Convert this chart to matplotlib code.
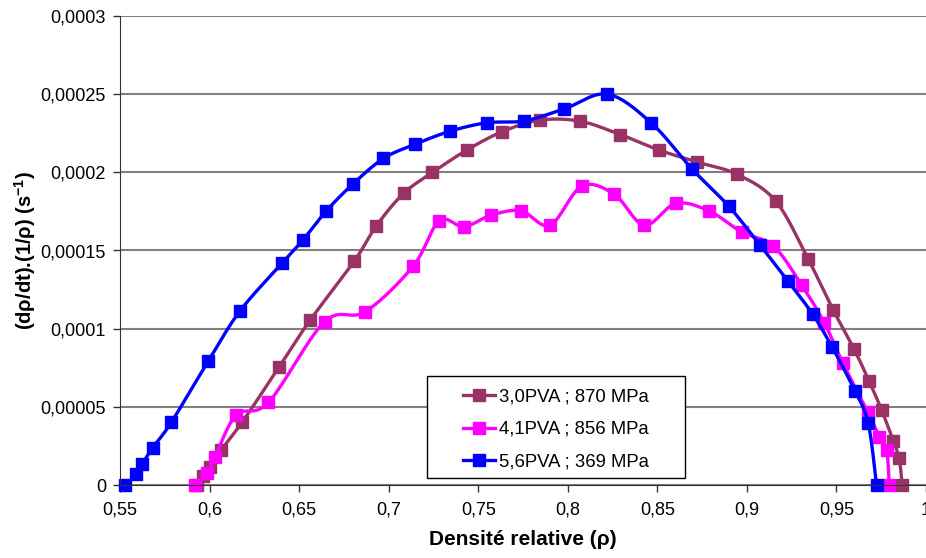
import numpy as np
import matplotlib
matplotlib.use('Agg')
import matplotlib.pyplot as plt
from matplotlib.patches import Rectangle
from matplotlib.ticker import FuncFormatter, MultipleLocator

plt.rcParams['font.family'] = ['Liberation Sans', 'DejaVu Sans']
plt.rcParams['mathtext.fontset'] = 'custom'
plt.rcParams['mathtext.rm'] = 'Liberation Sans'
plt.rcParams['mathtext.bf'] = 'Liberation Sans:bold'

# 3,0PVA ; 870 MPa
rho_30 = [0.5931, 0.5965, 0.6004, 0.6065, 0.6181, 0.6389, 0.6562, 0.6809, 0.6930,
          0.7083, 0.7244, 0.7436, 0.7632, 0.7845, 0.8069, 0.8292, 0.8511, 0.8724,
          0.8946, 0.9161, 0.9343, 0.9482, 0.9598, 0.9683, 0.9752, 0.9817, 0.9850, 0.9867]
rate_30 = [0.0, 5.8e-6, 1.17e-5, 2.24e-5, 4.0e-5, 7.56e-5, 1.055e-4, 1.434e-4, 1.656e-4,
           1.865e-4, 1.999e-4, 2.142e-4, 2.259e-4, 2.334e-4, 2.327e-4, 2.242e-4, 2.142e-4, 2.065e-4,
           1.987e-4, 1.816e-4, 1.443e-4, 1.119e-4, 8.70e-5, 6.63e-5, 4.80e-5, 2.83e-5, 1.71e-5, 0.0]

# 4,1PVA ; 856 MPa
rho_41 = [0.5920, 0.5986, 0.6030, 0.6149, 0.6329, 0.6642, 0.6869, 0.7137, 0.7282,
          0.7421, 0.7572, 0.7739, 0.7901, 0.8078, 0.8260, 0.8427, 0.8603, 0.8790,
          0.8974, 0.9147, 0.9306, 0.9432, 0.9535, 0.9676, 0.9739, 0.9780, 0.9795]
rate_41 = [0.0, 7.5e-6, 1.79e-5, 4.48e-5, 5.29e-5, 1.044e-4, 1.108e-4, 1.40e-4, 1.690e-4,
           1.652e-4, 1.726e-4, 1.754e-4, 1.662e-4, 1.912e-4, 1.859e-4, 1.662e-4, 1.801e-4, 1.752e-4,
           1.616e-4, 1.530e-4, 1.279e-4, 1.038e-4, 7.82e-5, 4.65e-5, 3.09e-5, 2.24e-5, 0.0]

# 5,6PVA ; 369 MPa
rho_56 = [0.5530, 0.5591, 0.5623, 0.5682, 0.5786, 0.5994, 0.6171, 0.6404, 0.6521,
          0.6651, 0.6800, 0.6971, 0.7148, 0.7343, 0.7548, 0.7758, 0.7981, 0.8221,
          0.8465, 0.8695, 0.8898, 0.9073, 0.9228, 0.9367, 0.9477, 0.9603, 0.9677, 0.9724]
rate_56 = [0.0, 6.8e-6, 1.32e-5, 2.38e-5, 4.0e-5, 7.95e-5, 1.115e-4, 1.418e-4, 1.567e-4,
           1.752e-4, 1.925e-4, 2.089e-4, 2.180e-4, 2.263e-4, 2.317e-4, 2.329e-4, 2.406e-4, 2.500e-4,
           2.317e-4, 2.020e-4, 1.784e-4, 1.535e-4, 1.306e-4, 1.093e-4, 8.80e-5, 6.03e-5, 3.98e-5, 0.0]

labels = ['3,0PVA ; 870 MPa', '4,1PVA ; 856 MPa', '5,6PVA ; 369 MPa']
colors = ['#993366', '#FF00FF', '#0000FF']


def smooth(x, y, n=20):
    # bezier spline through the points, like a smoothed spreadsheet line
    p = np.column_stack([x, y])
    ext = np.vstack([p[0], p, p[-1]])
    out = []
    t = np.linspace(0, 1, n)[:, None]
    for i in range(len(p) - 1):
        p0, p1, p2, p3 = ext[i], ext[i + 1], ext[i + 2], ext[i + 3]
        c1 = p1 + (p2 - p0) / 6
        c2 = p2 - (p3 - p1) / 6
        seg = ((1 - t) ** 3) * p1 + 3 * ((1 - t) ** 2) * t * c1 + 3 * (1 - t) * t ** 2 * c2 + t ** 3 * p2
        out.append(seg if i == 0 else seg[1:])
    s = np.vstack(out)
    return s[:, 0], s[:, 1]


fig = plt.figure(figsize=(9.26, 5.58), dpi=100)
ax = fig.add_axes([120 / 926, 1 - 485 / 558, 806 / 926, 469 / 558])

for xs, ys, c, lab in [(rho_30, rate_30, colors[0], labels[0]),
                       (rho_41, rate_41, colors[1], labels[1]),
                       (rho_56, rate_56, colors[2], labels[2])]:
    sx, sy = smooth(xs, ys)
    ax.plot(sx, sy, color=c, lw=2.4, solid_capstyle='round', clip_on=False)
    ax.plot(xs, ys, ls='none', marker='s', ms=8.5, color=c, mec=c, clip_on=False)
    ax.plot([], [], color=c, lw=2.4, marker='s', ms=8.5, label=lab)

ax.set_xlim(0.55, 1.0)
ax.set_ylim(0, 0.0003)
ax.xaxis.set_major_locator(MultipleLocator(0.05))
ax.yaxis.set_major_locator(MultipleLocator(0.00005))
ax.xaxis.set_major_formatter(FuncFormatter(lambda v, p: f"{v:.2f}".rstrip('0').rstrip('.').replace('.', ',')))
ax.yaxis.set_major_formatter(FuncFormatter(lambda v, p: f"{v:.5f}".rstrip('0').rstrip('.').replace('.', ',')))

ax.grid(axis='y', color='#808080', lw=1.5)
ax.set_axisbelow(True)
for s in ['top', 'right']:
    ax.spines[s].set_visible(False)
ax.spines['left'].set_color('#333333')
ax.spines['bottom'].set_color('#333333')
ax.tick_params(axis='both', direction='out', length=5, width=1, colors='#333333',
               labelsize=13, labelcolor='black', pad=5)
ax.tick_params(axis='x', pad=7)

ax.set_xlabel('Densité relative (ρ)', fontsize=15, fontweight='bold', labelpad=8)
ax.set_ylabel('(dρ/dt).(1/ρ) (s$^{\\mathbf{-1}}$)', fontsize=14.5, fontweight='bold', labelpad=2)

# legend box is wider than its content in the original
box = Rectangle((427 / 926, 1 - 478 / 558), 258 / 926, 102 / 558, transform=fig.transFigure,
                facecolor='white', edgecolor='black', lw=1.0, zorder=4.5, clip_on=False)
ax.add_patch(box)
leg = ax.legend(loc='center', bbox_to_anchor=(556 / 926, 128.5 / 558), bbox_transform=fig.transFigure,
                fontsize=13.3, frameon=False, handlelength=1.75, handletextpad=0.2,
                labelspacing=0.85, borderpad=0.2)
leg.set_zorder(5)

fig.savefig('out.png', dpi=100)
